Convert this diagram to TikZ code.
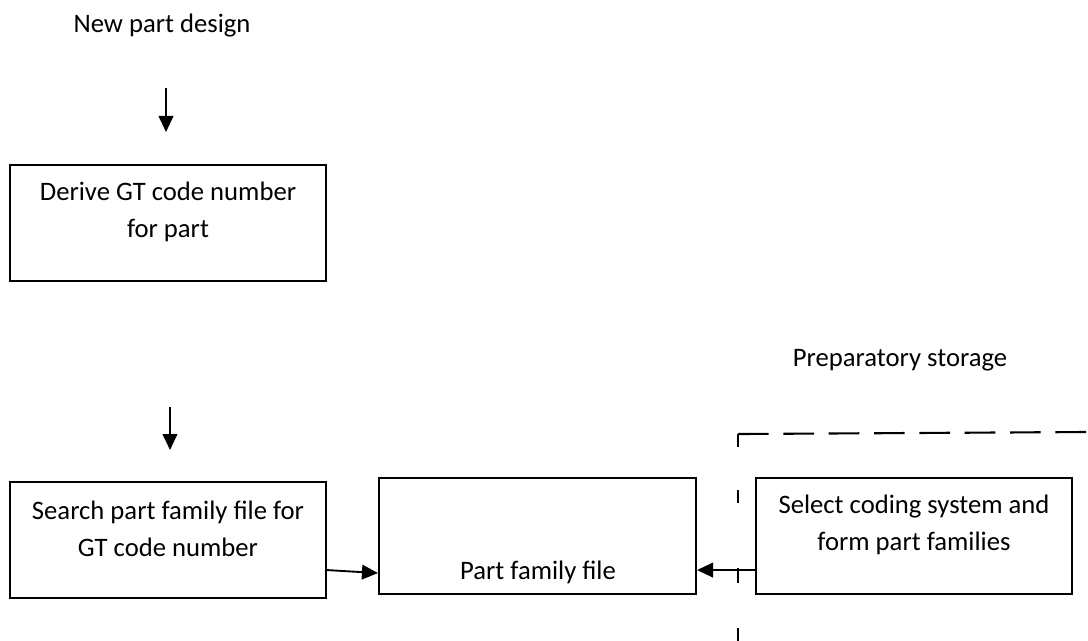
\documentclass[tikz,border=0pt]{standalone}
\usepackage{fontspec}
\setmainfont{Carlito}
\usetikzlibrary{arrows.meta,calc}
\begin{document}
\begin{tikzpicture}[x=0.75pt,y=-0.75pt,
  every node/.style={font=\fontsize{20}{27.75}\selectfont},
  box/.style={draw, line width=1.6pt, minimum width=237pt, minimum height=87pt, inner sep=0pt},
  lbl/.style={anchor=base, align=center, inner sep=0pt},
  flow/.style={line width=1.4pt, -{Triangle[length=12pt,width=11pt]}},
  border/.style={line width=1.6pt}]
\useasboundingbox (0,0) rectangle (1088,641);

% boxes
\node[box] (derive) at (168,223) {};
\node[box] (search) at (168,540) {};
\node[box, minimum width=237.75pt] (pff) at (537.5,536) {};
\node[box] (select) at (914,536) {};

% texts (base = baseline of the last line)
\node[lbl] (newpart) at (162,33) {New part design};
\node[lbl] (derivetxt) at (168,238) {Derive GT code number\\for part};
\node[lbl] (searchtxt) at (168,556) {Search part family file for\\GT code number};
\node[lbl] (pfftxt) at (538,579) {Part family file};
\node[lbl] (selecttxt) at (914,550) {Select coding system and\\form part families};
\node[lbl] (prep) at (900,366) {Preparatory storage};

% free arrows
\coordinate (a1s) at (166,88);
\coordinate (a1e) at (166,132);
\coordinate (a2s) at (170,407);
\coordinate (a2e) at (170,450);
\draw[flow] (a1s) -- (a1e);
\draw[flow] (a2s) -- (a2e);

% connectors
\draw[flow] ($(search.south east)+(0,-29)$) -- ($(pff.south west)+(0,-22)$);
\draw[flow] ($(select.south west)+(0,-25)$) -- ($(pff.south east)+(0,-25)$);

% preparatory storage boundary
\coordinate (corner) at (738,434);
\coordinate (topend) at (1090,432);
\coordinate (botend) at (738,645);
\draw[border, dash pattern=on 23pt off 11pt] (corner) -- (topend);
\draw[border, dash pattern=on 9.75pt off 32.25pt on 9.75pt off 48.75pt on 11.25pt off 33.75pt] (corner) -- (botend);
\end{tikzpicture}
\end{document}
